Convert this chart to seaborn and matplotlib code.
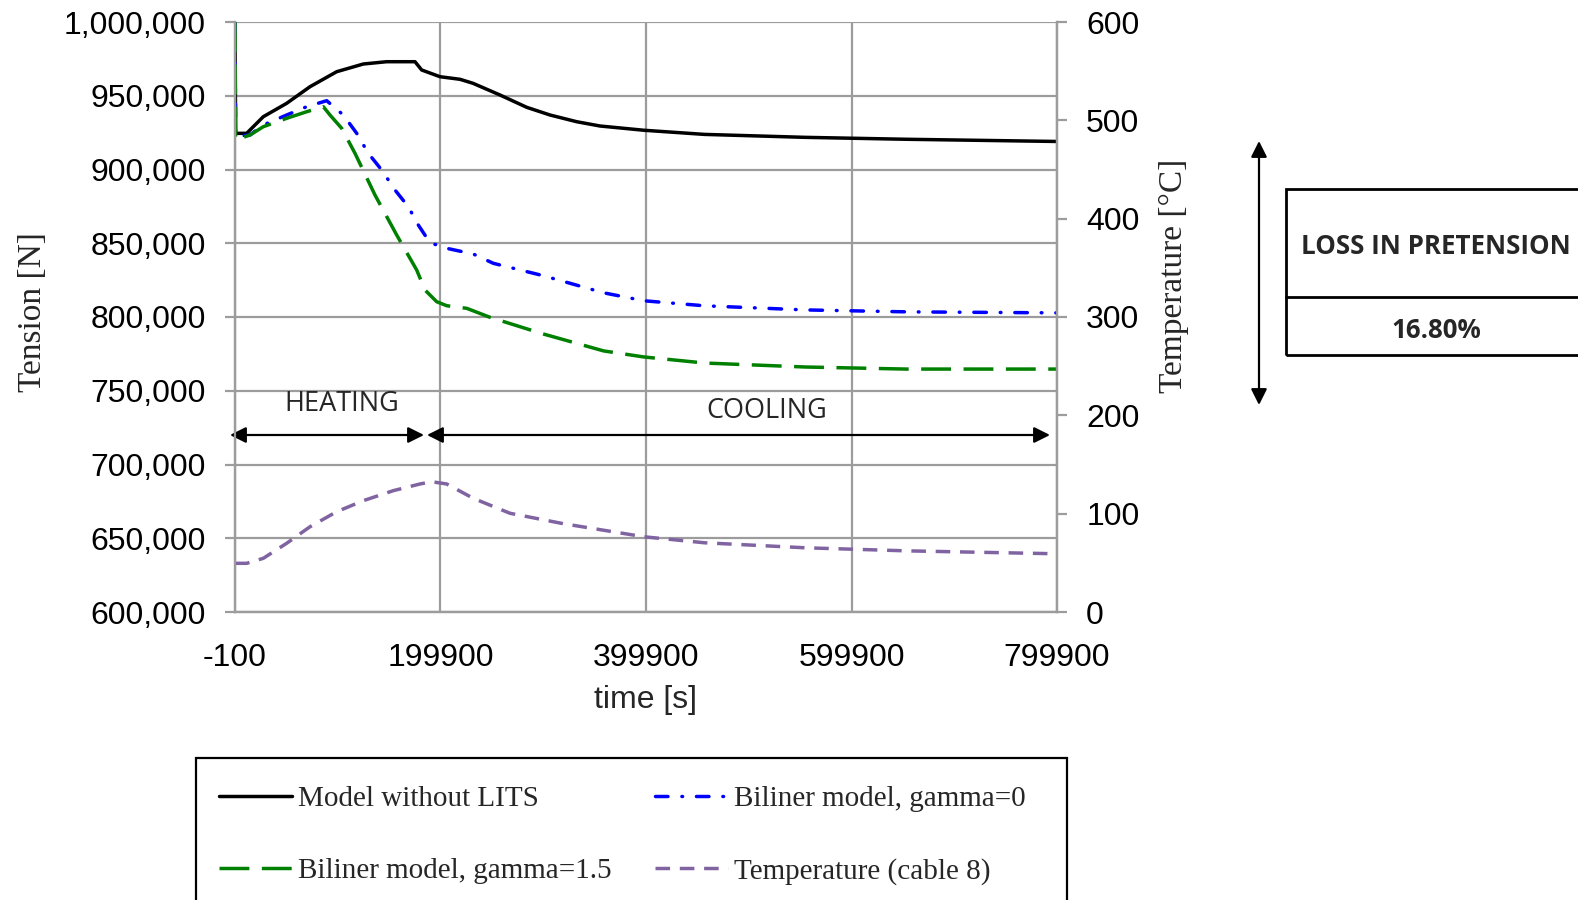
import matplotlib
matplotlib.use("Agg")
import matplotlib.pyplot as plt
import seaborn as sns
import numpy as np
from matplotlib.patches import Rectangle, FancyArrowPatch
from matplotlib.lines import Line2D
from matplotlib.ticker import FuncFormatter

# ---- data ----
time_nolits = [-100, 500, 11290, 27440, 50210, 72890, 98870, 124760, 147530, 175080,
               181600, 199410, 218870, 231520, 257800, 283780, 306460, 332440, 355120,
               397900, 456800, 554800, 652900, 799900]
tension_nolits = [1000000, 924500, 924540, 935790, 944880, 956130, 966300, 971520, 973080,
                  973080, 967460, 962910, 961150, 958440, 950510, 942170, 936950, 932400,
                  929490, 926600, 923800, 921800, 920500, 919000]

time_g0 = [-100, 500, 14500, 27440, 50210, 69680, 89140, 105300, 118340, 129630, 142670,
           155610, 168560, 178290, 189670, 205930, 231810, 251280, 299900, 358700, 397900,
           456800, 554800, 652900, 799900]
tension_g0 = [1000000, 922500, 923390, 930170, 936950, 942570, 946640, 936950, 924540,
              910980, 899660, 886100, 874780, 862370, 850370, 846570, 842700, 836400,
              828000, 816400, 811000, 807600, 804800, 803500, 802800]

time_g15 = [-100, 500, 14500, 27440, 50210, 69680, 85840, 92350, 103740, 116680, 136140,
            157260, 176730, 184800, 196190, 205930, 225390, 248070, 299900, 358700, 397900,
            456800, 554800, 652900, 799900]
tension_g15 = [1000000, 920000, 923390, 929010, 934710, 939180, 942570, 936950, 927930,
               910980, 882700, 855590, 831860, 818300, 810370, 807650, 805890, 799790,
               788500, 777000, 772900, 768800, 766100, 764700, 764700]

time_temp = [-100, 11290, 27440, 50210, 72890, 98870, 124760, 153960, 179940, 191330,
             205930, 231810, 267530, 319500, 397900, 456800, 554800, 652900, 799900]
temperature = [49.5, 49.5, 54.6, 69.9, 86.7, 102.0, 113.2, 123.4, 130.2, 132.5, 130.2,
               115.6, 100.4, 89.8, 76.5, 70.4, 65.3, 62.2, 59.2]

x_ticks = [-100, 199900, 399900, 599900, 799900]
labels = ["Model without LITS", "Biliner model, gamma=0",
          "Biliner model, gamma=1.5", "Temperature (cable 8)"]
loss_text = "16.80%"

# ---- style ----
sns.set_theme(style="white")
plt.rcParams['font.family'] = ['Liberation Sans', 'DejaVu Sans']
GRID = "#9c9c9c"

W, H = 1578, 900
fig = plt.figure(figsize=(W / 100, H / 100), dpi=100)
L, R, T, B = 235, 1057, 22, 612
ax = fig.add_axes([L / W, 1 - B / H, (R - L) / W, (B - T) / H])
ax2 = ax.twinx()

lw = 2.5
sns.lineplot(x=time_nolits, y=tension_nolits, ax=ax, color="black", linewidth=lw,
             label=labels[0], legend=False)
sns.lineplot(x=time_g0, y=tension_g0, ax=ax, color="#0000ff", linewidth=lw,
             linestyle=(0, (3.6, 4.0, 0.2, 4.0)), dash_capstyle='round',
             label=labels[1], legend=False)
sns.lineplot(x=time_g15, y=tension_g15, ax=ax, color="#008000", linewidth=lw,
             linestyle=(0, (8.6, 3.6)), label=labels[2], legend=False)
sns.lineplot(x=time_temp, y=temperature, ax=ax2, color="#8064a2", linewidth=lw,
             linestyle=(0, (4.2, 2.8)), label=labels[3], legend=False)

ax.set_xlim(-100, 799900)
ax.set_ylim(600000, 1000000)
ax2.set_ylim(0, 600)
ax.set_xticks(x_ticks)
ax.set_xticklabels([str(v) for v in x_ticks])
ax.set_yticks(np.arange(600000, 1000001, 50000))
ax.yaxis.set_major_formatter(FuncFormatter(lambda v, p: f"{int(v):,}"))
ax2.set_yticks(np.arange(0, 601, 100))

ax.grid(True, color=GRID, linewidth=1.6)
ax.set_axisbelow(True)
for a in (ax, ax2):
    for s in a.spines.values():
        s.set_color(GRID)
        s.set_linewidth(1.6)
    a.spines['top'].set_visible(False)
ax.tick_params(axis='y', which='major', labelsize=23, length=7, width=1.6,
               color=GRID, labelcolor="black", direction='out', left=True, pad=14)
ax.tick_params(axis='x', which='major', labelsize=23, length=0, labelcolor="black",
               bottom=True, pad=22)
ax2.tick_params(axis='y', labelsize=23, length=7, width=1.6, color=GRID,
                labelcolor="black", direction='out', right=True, pad=14)
ax.set_xlabel("")
ax.set_ylabel("")
ax2.set_ylabel("")

# axis labels
fig.text(33 / W, 1 - 312 / H, "Tension [N]", rotation=90, ha='center', va='center',
         fontsize=24, family=['Liberation Serif'])
fig.text(1174 / W, 1 - 276 / H, "Temperature [°C]", rotation=90, ha='center', va='center',
         fontsize=24, family=['Liberation Serif'])
fig.text(646 / W, 1 - 700 / H, "time [s]", ha='center', va='center', fontsize=23)

# heating / cooling annotations
ya = 1 - (435 - T) / (B - T)
def fx(px):
    return (px - L) / (R - L)
arrow_kw = dict(arrowstyle="<|-|>", color="black", lw=1.6, mutation_scale=24,
                shrinkA=0, shrinkB=0)
ax.annotate("", xy=(fx(230), ya), xytext=(fx(424), ya), xycoords='axes fraction',
            arrowprops=arrow_kw, annotation_clip=False)
ax.annotate("", xy=(fx(427), ya), xytext=(fx(1050), ya), xycoords='axes fraction',
            arrowprops=arrow_kw, annotation_clip=False)
ax.text(fx(342), 1 - (404 - T) / (B - T), "HEATING", transform=ax.transAxes,
        ha='center', va='center', fontsize=19.5, family=['Open Sans'])
ax.text(fx(767), 1 - (411 - T) / (B - T), "COOLING", transform=ax.transAxes,
        ha='center', va='center', fontsize=19.5, family=['Open Sans'])

# loss in pretension box and double arrow
fig.add_artist(FancyArrowPatch((1259 / W, 1 - 405 / H), (1259 / W, 1 - 141 / H),
                               transform=fig.transFigure, arrowstyle="<|-|>",
                               mutation_scale=24, color="black", lw=1.6,
                               shrinkA=0, shrinkB=0))
fig.add_artist(Rectangle((1286 / W, 1 - 355 / H), 400 / W, (355 - 189) / H,
                         transform=fig.transFigure, fill=False, edgecolor="black", lw=2))
fig.add_artist(Line2D([1286 / W, 1], [1 - 297 / H, 1 - 297 / H],
                      transform=fig.transFigure, color="black", lw=2))
fig.text(1436 / W, 1 - 247 / H, "LOSS IN PRETENSION", ha='center', va='center',
         fontsize=18.6, fontweight='bold', family=['Open Sans'])
fig.text(1436 / W, 1 - 330 / H, loss_text, ha='center', va='center',
         fontsize=18.6, fontweight='bold', family=['Open Sans'])

# legend box
fig.add_artist(Rectangle((196 / W, -0.05), (1067 - 196) / W, (1 - 758 / H) + 0.05,
                         transform=fig.transFigure, fill=False, edgecolor="black", lw=1.6))
h1, l1 = ax.get_legend_handles_labels()
h2, l2 = ax2.get_legend_handles_labels()
hd = dict(zip(l1 + l2, h1 + h2))
order = [labels[0], labels[2], labels[1], labels[3]]
leg = fig.legend([hd[k] for k in order], order, ncol=2, loc='upper left',
                 bbox_to_anchor=(219 / W, 1 - 786 / H), frameon=False,
                 prop={'family': 'Liberation Serif', 'size': 21},
                 handlelength=2.5, handletextpad=0.2, columnspacing=1.5,
                 labelspacing=1.55, borderpad=0, borderaxespad=0)

fig.savefig("out.png", dpi=100)
